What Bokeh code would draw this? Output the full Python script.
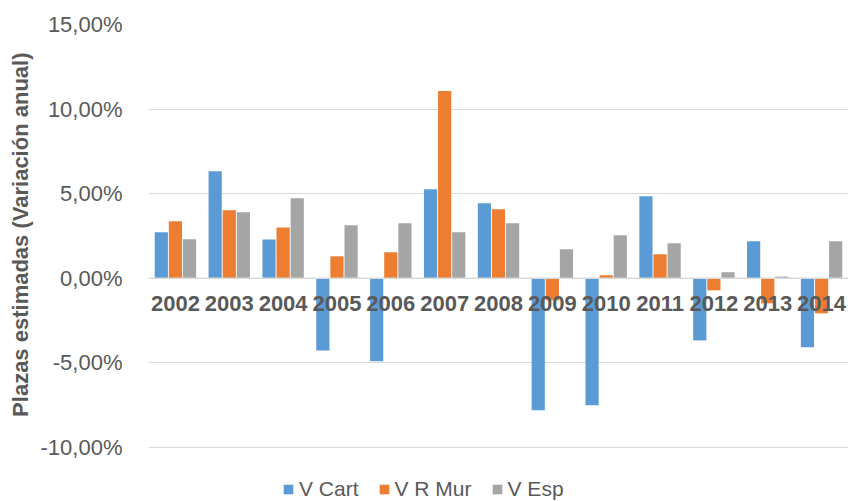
from bokeh.plotting import figure
from bokeh.models import ColumnDataSource, FixedTicker, Range1d, Legend, LegendItem, Span, Title
from bokeh.core.properties import value
from bokeh.transform import dodge
from bokeh.embed import file_html
from bokeh.resources import INLINE

years = ["2002", "2003", "2004", "2005", "2006", "2007", "2008",
         "2009", "2010", "2011", "2012", "2013", "2014"]
v_cart = [2.72, 6.33, 2.30, -4.26, -4.90, 5.27, 4.44, -7.80, -7.50, 4.85, -3.67, 2.19, -4.08]
v_rmur = [3.37, 4.02, 3.00, 1.30, 1.54, 11.07, 4.08, -1.30, 0.18, 1.42, -0.71, -1.48, -2.07]
v_esp = [2.31, 3.90, 4.73, 3.13, 3.25, 2.72, 3.25, 1.72, 2.54, 2.07, 0.36, 0.10, 2.19]
y_ticks = [-10, -5, 0, 5, 10, 15]
y_tick_labels = ["-10,00%", "-5,00%", "0,00%", "5,00%", "10,00%", "15,00%"]
series_names = ["V Cart", "V R Mur", "V Esp"]
colors = ["#5B9BD5", "#ED7D31", "#A5A5A5"]
y_title = "Plazas estimadas (Variación anual)"

FONT = "Liberation Sans"
TXT = "#595959"

idx = list(range(len(years)))
src = ColumnDataSource(dict(
    x=idx, years=years, zero=[0] * len(years),
    cart=v_cart, rmur=v_rmur, esp=v_esp,
))

# frame: top at 24px, -10% at 447px, extends to the canvas bottom (501px) to hold the legend
p = figure(width=848, height=501, output_backend="svg", toolbar_location=None,
           x_range=Range1d(-0.5, 12.5), y_range=Range1d(-13.19, 15),
           min_border_left=145, min_border_right=0, min_border_top=24, min_border_bottom=0)

p.outline_line_color = None
p.background_fill_color = "white"
p.border_fill_color = "white"

offsets = [-0.262, 0.0, 0.262]
bw = 0.245
cols = ["cart", "rmur", "esp"]
renderers = []
for off, col, c in zip(offsets, cols, colors):
    r = p.vbar(x=dodge("x", off), top=col, bottom=0, width=bw, source=src,
               fill_color=c, line_color=None)
    renderers.append(r)

p.xaxis.visible = False
p.xgrid.visible = False

p.yaxis.ticker = FixedTicker(ticks=y_ticks)
p.yaxis.major_label_overrides = {t: l for t, l in zip(y_ticks, y_tick_labels)}
p.yaxis.major_label_text_font = FONT
p.yaxis.major_label_text_font_size = "22px"
p.yaxis.major_label_text_color = TXT
p.yaxis.major_label_standoff = 20
p.yaxis.axis_line_color = None
p.yaxis.major_tick_line_color = None
p.yaxis.minor_tick_line_color = None

ytitle = Title(text=y_title, align="right", offset=28, standoff=10,
               text_font=FONT, text_font_size="22px", text_font_style="bold",
               text_color=TXT)
p.add_layout(ytitle, "left")

p.ygrid.grid_line_color = "#D9D9D9"
p.ygrid.grid_line_width = 1

p.add_layout(Span(location=0, dimension="width", line_color="#D9D9D9", line_width=1.5))

p.text(x="x", y="zero", text="years", source=src, text_align="center",
       text_baseline="middle", y_offset=25, text_font=value(FONT),
       text_font_size="22px", text_font_style="bold", text_color=TXT)

legend = Legend(items=[LegendItem(label=n, renderers=[r]) for n, r in zip(series_names, renderers)],
                orientation="horizontal", location=(134, 0),
                glyph_width=12, glyph_height=12, label_standoff=5, spacing=19,
                padding=0, margin=0, border_line_color=None, background_fill_alpha=0,
                label_text_font=FONT, label_text_font_size="21px", label_text_color=TXT)
p.add_layout(legend, "center")

open("out.html", "w").write(file_html(p, INLINE))
